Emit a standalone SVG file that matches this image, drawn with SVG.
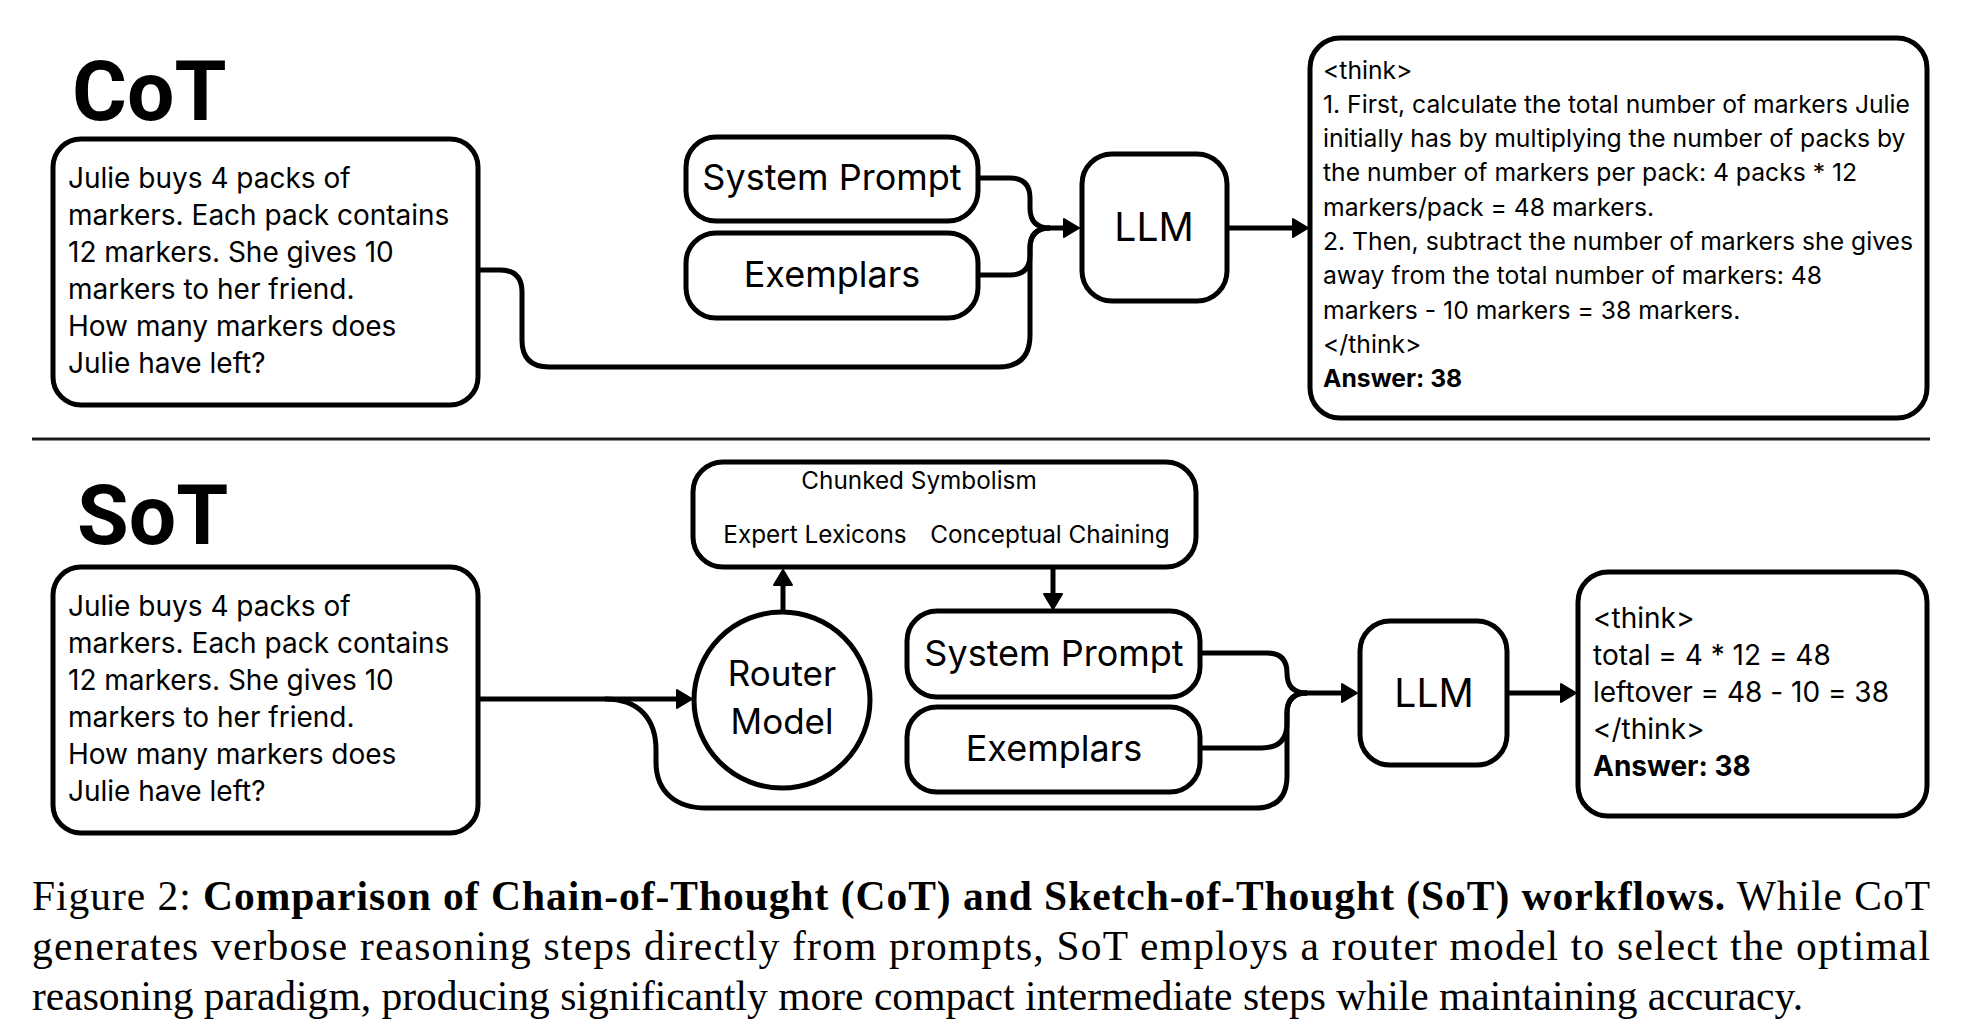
<svg xmlns="http://www.w3.org/2000/svg" width="1984" height="1034" viewBox="0 0 1984 1034">
<style>
.box{fill:#fff;stroke:#000;stroke-width:5}
.con{fill:none;stroke:#000;stroke-width:5;stroke-linecap:butt;stroke-linejoin:round}
.t{font-family:Inter,"Noto Sans",sans-serif;fill:#000;font-feature-settings:"calt" 0}
.q{font-size:28px}
.o{font-size:24.7px}
.b{font-weight:700}
.big{font-size:36px}
.sm{font-size:24.3px}
.title{font-family:Roboto,"Liberation Sans",sans-serif;font-weight:700;font-size:84px;fill:#000}
.cap{font-family:"Liberation Serif","Times New Roman",serif;font-size:41.5px;fill:#000}
</style>
<defs>
<marker id="ah" markerUnits="userSpaceOnUse" markerWidth="22" markerHeight="24" refX="2" refY="11" orient="auto">
<path d="M1,2 L16,11 L1,20 z" fill="#000" stroke="#000" stroke-width="2" stroke-linejoin="round"/>
</marker>
</defs>
<rect width="1984" height="1034" fill="#fff"/>

<text class="title" x="72" y="120">CoT</text>
<text class="title" x="77" y="544">SoT</text>
<line x1="32" y1="439" x2="1930" y2="439" stroke="#1a1a1a" stroke-width="3"/>

<g id="connectors">
<path class="con" d="M980,178 H1010 Q1030,178 1030,198 V208 Q1030,228 1050,228"/>
<path class="con" d="M980,275 H1010 Q1030,275 1030,255 V248 Q1030,228 1050,228"/>
<path class="con" d="M480,270 H500 Q522,270 522,292 V340 Q522,367 549,367 H998 Q1030,367 1030,335 V248 Q1030,228 1050,228"/>
<path class="con" d="M1049,228 H1065" marker-end="url(#ah)"/>
<path class="con" d="M1229,228 H1294" marker-end="url(#ah)"/>

<path class="con" d="M480,699 H678" marker-end="url(#ah)"/>
<path class="con" d="M605,699 C640,699 656,720 656,750 V762 C656,792 676,808 706,808 H1255 Q1287,808 1287,776 V713 Q1287,693 1307,693"/>
<path class="con" d="M1202,653 H1267 Q1287,653 1287,673 Q1287,693 1307,693"/>
<path class="con" d="M1202,748 H1262 Q1287,748 1287,723 V713 Q1287,693 1307,693"/>
<path class="con" d="M1306,693 H1343" marker-end="url(#ah)"/>
<path class="con" d="M1509,693 H1562" marker-end="url(#ah)"/>
<path class="con" d="M783,612 V584" marker-end="url(#ah)"/>
<path class="con" d="M1053,569 V595" marker-end="url(#ah)"/>
</g>

<g id="cot-question">
<rect class="box" x="53" y="139" width="425" height="266" rx="28"/>
<text class="t q" x="68" y="188">Julie buys 4 packs of</text>
<text class="t q" x="68" y="225">markers. Each pack contains</text>
<text class="t q" x="68" y="262">12 markers. She gives 10</text>
<text class="t q" x="68" y="299">markers to her friend.</text>
<text class="t q" x="68" y="336">How many markers does</text>
<text class="t q" x="68" y="373">Julie have left?</text>
</g>

<g id="cot-system-prompt">
<rect class="box" x="686" y="137" width="292" height="84" rx="30"/>
<text class="t big" x="832" y="190" text-anchor="middle">System Prompt</text>
</g>

<g id="cot-exemplars">
<rect class="box" x="686" y="233" width="292" height="85" rx="30"/>
<text class="t big" x="832" y="287" text-anchor="middle">Exemplars</text>
</g>

<g id="cot-llm">
<rect class="box" x="1082" y="154" width="145" height="147" rx="30"/>
<text class="t" font-size="39" x="1154" y="241" text-anchor="middle">LLM</text>
</g>

<g id="cot-output">
<rect class="box" x="1310" y="38" width="617" height="380" rx="30"/>
<text class="t o" x="1323" y="79">&lt;think&gt;</text>
<text class="t o" x="1323" y="113">1. First, calculate the total number of markers Julie</text>
<text class="t o" x="1323" y="147">initially has by multiplying the number of packs by</text>
<text class="t o" x="1323" y="181">the number of markers per pack: 4 packs * 12</text>
<text class="t o" x="1323" y="216">markers/pack = 48 markers.</text>
<text class="t o" x="1323" y="250">2. Then, subtract the number of markers she gives</text>
<text class="t o" x="1323" y="284">away from the total number of markers: 48</text>
<text class="t o" x="1323" y="319">markers - 10 markers = 38 markers.</text>
<text class="t o" x="1323" y="353">&lt;/think&gt;</text>
<text class="t o b" x="1323" y="387">Answer: 38</text>
</g>

<g id="sot-question">
<rect class="box" x="53" y="567" width="425" height="266" rx="28"/>
<text class="t q" x="68" y="616">Julie buys 4 packs of</text>
<text class="t q" x="68" y="653">markers. Each pack contains</text>
<text class="t q" x="68" y="690">12 markers. She gives 10</text>
<text class="t q" x="68" y="727">markers to her friend.</text>
<text class="t q" x="68" y="764">How many markers does</text>
<text class="t q" x="68" y="801">Julie have left?</text>
</g>

<g id="sot-router">
<circle class="box" cx="782" cy="700" r="88"/>
<text class="t" font-size="35" x="782" y="686" text-anchor="middle">Router</text>
<text class="t" font-size="35" x="782" y="734" text-anchor="middle">Model</text>
</g>

<g id="sot-paradigms">
<rect class="box" x="693" y="462" width="503" height="105" rx="30"/>
<text class="t sm" x="919" y="489" text-anchor="middle">Chunked Symbolism</text>
<text class="t sm" x="815" y="543" text-anchor="middle">Expert Lexicons</text>
<text class="t sm" x="1050" y="543" text-anchor="middle">Conceptual Chaining</text>
</g>

<g id="sot-system-prompt">
<rect class="box" x="907" y="611" width="293" height="86" rx="30"/>
<text class="t big" x="1054" y="666" text-anchor="middle">System Prompt</text>
</g>

<g id="sot-exemplars">
<rect class="box" x="907" y="707" width="293" height="85" rx="30"/>
<text class="t big" x="1054" y="761" text-anchor="middle">Exemplars</text>
</g>

<g id="sot-llm">
<rect class="box" x="1360" y="621" width="147" height="144" rx="30"/>
<text class="t" font-size="39" x="1434" y="707" text-anchor="middle">LLM</text>
</g>

<g id="sot-output">
<rect class="box" x="1578" y="572" width="349" height="244" rx="30"/>
<text class="t q" x="1593" y="628">&lt;think&gt;</text>
<text class="t q" x="1593" y="665">total = 4 * 12 = 48</text>
<text class="t q" x="1593" y="702">leftover = 48 - 10 = 38</text>
<text class="t q" x="1593" y="739">&lt;/think&gt;</text>
<text class="t q b" x="1593" y="776">Answer: 38</text>
</g>

<g id="caption">
<text class="cap" x="32" y="910" textLength="1898" lengthAdjust="spacing">Figure 2:  <tspan font-weight="700">Comparison of Chain-of-Thought (CoT) and Sketch-of-Thought (SoT) workflows.</tspan>  While CoT</text>
<text class="cap" x="32" y="960" textLength="1898" lengthAdjust="spacing">generates verbose reasoning steps directly from prompts, SoT employs a router model to select the optimal</text>
<text class="cap" x="32" y="1010" textLength="1771" lengthAdjust="spacing">reasoning paradigm, producing significantly more compact intermediate steps while maintaining accuracy.</text>
</g>
</svg>
